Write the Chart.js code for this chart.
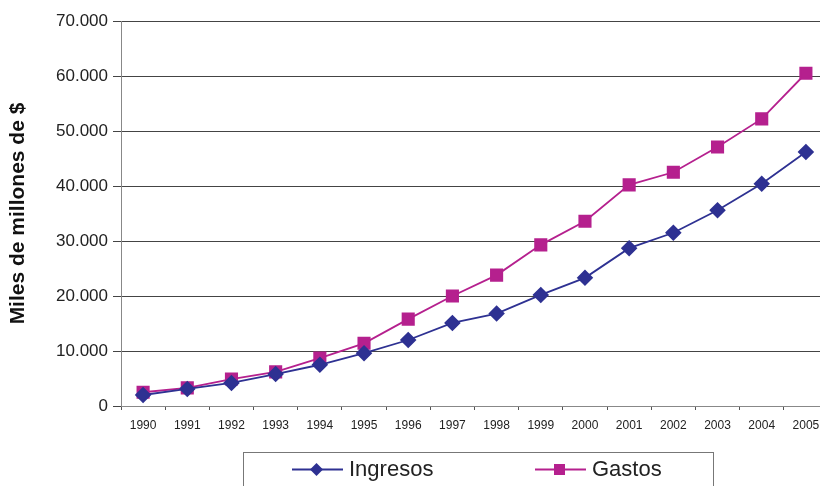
<!DOCTYPE html>
<html>
<head>
<meta charset="utf-8">
<script src="https://cdn.jsdelivr.net/npm/chart.js@4/dist/chart.umd.min.js"></script>
<style>
  html, body { margin: 0; padding: 0; background: #fff; overflow: hidden; }
  /* the plot runs a little past the right edge of the window */
  #wrap { width: 820px; height: 486px; position: relative; overflow: hidden; }
  #c { display: block; }
</style>
</head>
<body>
<div id="wrap"><canvas id="c" width="828" height="486"></canvas></div>
<script>
// Years on the horizontal axis
const years = ['1990','1991','1992','1993','1994','1995','1996','1997',
               '1998','1999','2000','2001','2002','2003','2004','2005'];
// Income, thousands of millions of $
const ingresos = [2000, 3100, 4200, 5800, 7500, 9600, 12000, 15100,
                  16800, 20200, 23300, 28700, 31500, 35600, 40400, 46200];
// Spending, thousands of millions of $
const gastos = [2500, 3300, 4900, 6200, 8700, 11400, 15800, 20000,
                23800, 29300, 33600, 40200, 42500, 47100, 52200, 60500];
// Value axis ticks
const yTicks = [0, 10000, 20000, 30000, 40000, 50000, 60000, 70000];

const BLUE = '#2E3192';
const MAGENTA = '#B5208E';
const FONT = '"Liberation Sans", Arial, sans-serif';

function fmtThousands(v) {
  return String(Math.round(v)).replace(/\B(?=(\d{3})+(?!\d))/g, '.');
}

// Boxed legend below the plot: a line with the marker, then the label
const boxedLegend = {
  id: 'boxedLegend',
  afterDraw(chart) {
    const ctx = chart.ctx;
    ctx.save();
    ctx.strokeStyle = '#777';
    ctx.lineWidth = 1;
    ctx.strokeRect(243.5, 452.5, 470, 40);
    const entries = [
      { ds: chart.data.datasets[0], x: 292 },
      { ds: chart.data.datasets[1], x: 535 }
    ];
    const y = 469.5;
    entries.forEach(e => {
      ctx.strokeStyle = e.ds.borderColor;
      ctx.lineWidth = 2;
      ctx.beginPath();
      ctx.moveTo(e.x, y);
      ctx.lineTo(e.x + 51, y);
      ctx.stroke();
      ctx.fillStyle = e.ds.pointBackgroundColor;
      ctx.beginPath();
      const cx = e.x + 24.5;
      if (e.ds.pointStyle === 'rectRot') {
        const r = 6.5;
        ctx.moveTo(cx, y - r);
        ctx.lineTo(cx + r, y);
        ctx.lineTo(cx, y + r);
        ctx.lineTo(cx - r, y);
        ctx.closePath();
      } else {
        ctx.rect(cx - 5.5, y - 5.5, 11, 11);
      }
      ctx.fill();
      ctx.fillStyle = '#222';
      ctx.font = '22px ' + FONT;
      ctx.textBaseline = 'middle';
      ctx.textAlign = 'left';
      ctx.fillText(e.ds.label, e.x + 57, y);
    });
    ctx.restore();
  }
};

new Chart(document.getElementById('c'), {
  type: 'line',
  data: {
    labels: years,
    datasets: [
      {
        label: 'Ingresos',
        data: ingresos,
        borderColor: BLUE,
        backgroundColor: BLUE,
        pointBackgroundColor: BLUE,
        pointBorderColor: BLUE,
        pointStyle: 'rectRot',
        pointRadius: 7,
        borderWidth: 1.8,
        tension: 0,
        clip: false
      },
      {
        label: 'Gastos',
        data: gastos,
        borderColor: MAGENTA,
        backgroundColor: MAGENTA,
        pointBackgroundColor: MAGENTA,
        pointBorderColor: MAGENTA,
        pointStyle: 'rect',
        pointRadius: 8,
        borderWidth: 1.8,
        tension: 0,
        clip: false
      }
    ]
  },
  options: {
    responsive: false,
    animation: false,
    layout: { autoPadding: false, padding: { top: 21, right: 0, left: 6, bottom: 0 } },
    plugins: {
      legend: { display: false },
      tooltip: { enabled: false }
    },
    scales: {
      x: {
        offset: true,
        grid: {
          offset: true,
          drawOnChartArea: false,
          drawTicks: true,
          tickLength: 4,
          color: '#555'
        },
        border: { color: '#888', width: 1 },
        ticks: {
          color: '#222',
          font: { family: FONT, size: 12 },
          maxRotation: 0,
          autoSkip: false,
          padding: 8
        },
        afterFit(scale) {
          scale.height = 80;
          scale.paddingLeft = 0;
          scale.paddingRight = 0;
        }
      },
      y: {
        min: 0,
        max: 70000,
        afterBuildTicks(scale) { scale.ticks = yTicks.map(v => ({ value: v })); },
        grid: {
          color: '#444',
          lineWidth: 1,
          tickLength: 8
        },
        border: { color: '#888', width: 1 },
        ticks: {
          color: '#222',
          font: { family: FONT, size: 17 },
          padding: 5,
          callback: v => fmtThousands(v)
        },
        title: {
          display: true,
          text: 'Miles de millones de $',
          color: '#111',
          font: { family: FONT, size: 21, weight: 'bold' },
          padding: { top: 0, bottom: 4 }
        },
        afterFit(scale) {
          scale.width = 115;
          scale.paddingTop = 0;
          scale.paddingBottom = 0;
        }
      }
    }
  },
  plugins: [boxedLegend]
});
</script>
</body>
</html>
